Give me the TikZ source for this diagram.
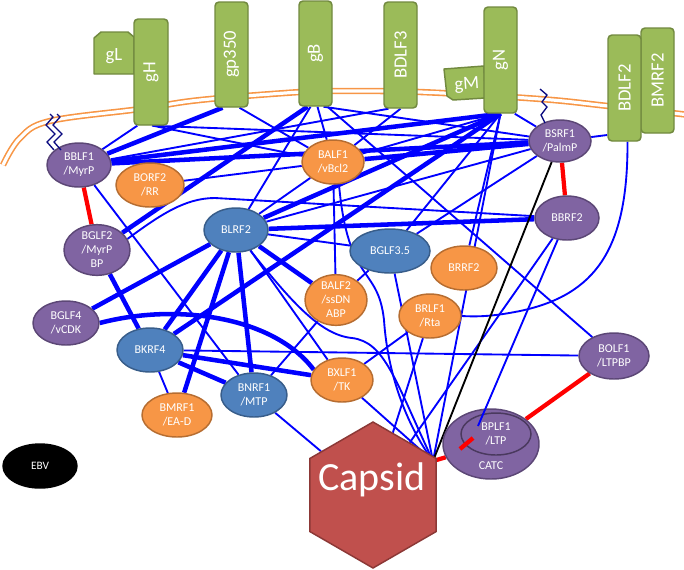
\documentclass[tikz,border=0pt]{standalone}
\usepackage{fontspec}
\setmainfont{Carlito}
\usetikzlibrary{shapes.geometric,calc}
\definecolor{cpur}{HTML}{8064A2}
\definecolor{cpurd}{HTML}{5C4776}
\definecolor{cor}{HTML}{F79646}
\definecolor{cord}{HTML}{B66D31}
\definecolor{cbl}{HTML}{4F81BD}
\definecolor{cbld}{HTML}{385D8A}
\definecolor{cgr}{HTML}{9BBB59}
\definecolor{cgrd}{HTML}{71893F}
\definecolor{ccap}{HTML}{C0504D}
\definecolor{ccapd}{HTML}{8C3836}
\definecolor{cedge}{HTML}{0000FF}
\definecolor{cnavy}{HTML}{0A0A80}
\definecolor{cred}{HTML}{FF0000}
\pgfdeclarelayer{memb}
\pgfdeclarelayer{edges}
\pgfsetlayers{memb,edges,main}
\begin{document}
\begin{tikzpicture}[x=0.75pt,y=-0.75pt,
  ell/.style 2 args={ellipse, inner sep=0pt, minimum width=2*#1*0.75pt, minimum height=2*#2*0.75pt, line width=1.1pt, text=white, font=\fontsize{9}{10.5}\selectfont, align=center},
  pur/.style={fill=cpur, draw=cpurd},
  org/.style={fill=cor, draw=cord},
  blu/.style={fill=cbl, draw=cbld},
  gbox/.style 2 args={rectangle, rounded corners=3pt, fill=cgr, draw=cgrd, line width=1.1pt, minimum width=#1*0.75pt, minimum height=#2*0.75pt, inner sep=0pt, text=white, font=\fontsize{14}{16}\selectfont},
  gshape/.style={fill=cgr, draw=cgrd, line width=1.1pt, line join=round},
  gtext/.style={text=white, font=\fontsize{14}{16}\selectfont, inner sep=0pt},
  ln/.style={cedge, line width=1.4pt},
  lnb/.style={cedge, line width=3.4pt},
  redl/.style={cred, line width=3.2pt},
  blk/.style={black, line width=1.4pt},
  squig/.style={cnavy, line width=1pt, line join=miter},
]
\useasboundingbox (0,0) rectangle (684,569);

% membrane
\begin{pgfonlayer}{memb}
\draw[cor, line width=1.2pt, double=white, double distance=2.4pt]
  plot[smooth, tension=0.6] coordinates {(3,165) (20,138) (50,121) (140,109) (200,100) (300,92) (340,91) (420,92) (540,99) (608,106) (690,115)};
\end{pgfonlayer}

% glycoproteins
\draw[gshape] (94,38) -- (101,32) -- (128,32) -- (134,37) -- (134,74) -- (94,74) -- cycle;
\node[gtext] (gLt) at (114,56) {gL};
\node[gbox={34}{106}] (gH) at (151,72) {\rotatebox{90}{gH}};
\node[gbox={33}{105}] (gp350) at (231.5,54.5) {\rotatebox{90}{gp350}};
\node[gbox={33}{105}] (gB) at (315.5,53.5) {\rotatebox{90}{gB}};
\node[gbox={33}{106}] (BDLF3) at (400.5,55) {\rotatebox{90}{BDLF3}};
\draw[gshape] (444,69) -- (484,66) -- (485,98) -- (453,100) -- (447,96) -- cycle;
\node[gtext, rotate=4] (gMt) at (467,85) {gM};
\node[gbox={33}{106}] (gN) at (500.5,60) {\rotatebox{90}{gN}};
\node[gbox={33}{105}] (BMRF2) at (657.5,80.5) {\rotatebox{90}{BMRF2}};
\node[gbox={33}{106}] (BDLF2) at (624.5,88) {\rotatebox{90}{BDLF2}};

% protein nodes
\node[ell={32}{22}, pur] (BBLF1) at (79,165) {BBLF1\\/MyrP};
\node[ell={34}{22}, org] (BORF2) at (150,185) {BORF2\\/RR};
\node[ell={33}{23}, pur] (BGLF2) at (97,250) {BGLF2\\/MyrP\\BP};
\node[ell={31}{22}, org] (BALF1) at (333,162) {BALF1\\/vBcl2};
\node[ell={31}{21}, pur] (BSRF1) at (560,141) {BSRF1\\/PalmP};
\node[ell={32}{22}, pur] (BBRF2) at (567,218) {BBRF2};
\node[ell={32}{22}, blu] (BLRF2) at (236,230) {BLRF2};
\node[ell={40}{22}, blu] (BGLF35) at (390,251) {BGLF3.5};
\node[ell={33}{22}, org] (BRRF2) at (464,268) {BRRF2};
\node[ell={31}{22}, org] (BALF2) at (336,300) {BALF2\\/ssDN\\ABP};
\node[ell={31}{22}, org] (BRLF1) at (430,316) {BRLF1\\/Rta};
\node[ell={33}{22}, pur] (BGLF4) at (66,323) {BGLF4\\/vCDK};
\node[ell={33}{22}, blu] (BKRF4) at (150,350) {BKRF4};
\node[ell={31}{22}, org] (BXLF1) at (342,380) {BXLF1\\/TK};
\node[ell={35}{23}, pur] (BOLF1) at (614,356) {BOLF1\\/LTPBP};
\node[ell={33}{22}, blu] (BNRF1) at (254,395) {BNRF1\\/MTP};
\node[ell={35}{22}, org] (BMRF1) at (177,415) {BMRF1\\/EA-D};
\node[ell={37}{22}, fill=black, draw=black, font=\fontsize{8.5}{10}\selectfont] (EBV) at (40,466) {EBV};
\node[ell={48}{35}, pur] (CATC) at (491,444) {};
\node[text=white, font=\fontsize{9}{10.5}\selectfont, inner sep=0pt] (CATCt) at (491,466) {CATC};
\node[ell={35}{21}, pur, draw=cpurd!80!black] (BPLF1) at (496,434) {BPLF1\\/LTP};
\node[regular polygon, regular polygon sides=6, shape border rotate=30, minimum size=146*0.75pt, inner sep=0pt, fill=ccap, draw=ccapd, line width=1.1pt] (Capsid) at (373,495) {};
\node[text=white, font=\fontsize{30}{32}\selectfont, inner sep=0pt] (Capsidt) at (372,480) {Capsid};
\coordinate (hub) at (433,461);

% squiggles
\draw[squig] (54,150) -- (47,142) -- (55,134) -- (46,125) -- (53,117) -- (50,114);
\draw[squig] (61,150) -- (54,142) -- (62,134) -- (53,125) -- (60,117) -- (57,114);
\draw[squig] (545,123) -- (541,115) -- (547,107) -- (542,102) -- (547,95) -- (540,89);

% edges
\begin{pgfonlayer}{edges}
% gH
\draw[ln] ($(gH.south west)+(4,0)$) -- (BBLF1);
\draw[ln] ($(gH.south)+(1,0)$) -- (BSRF1);
\draw[ln] ($(gH.south)+(2,0)$) -- (BALF1);
% gp350
\draw[lnb] ($(gp350.south)+(-9,0)$) -- (BBLF1);
\draw[ln] ($(gp350.south)+(8,0)$) -- (BALF1);
% gB
\draw[lnb] ($(gB.south)+(-8,0)$) -- (BGLF2);
\draw[ln] ($(gB.south)+(-5,0)$) -- (BLRF2);
\draw[ln] ($(gB.south)+(2,0)$) -- (BALF1);
\draw[ln] ($(gB.south)+(8,0)$) -- (BSRF1);
\draw[ln] ($(gB.south)+(12,0)$) -- (BOLF1);
% BDLF3
\draw[ln] ($(BDLF3.south)+(-12,0)$) -- (BBLF1);
\draw[ln] (BDLF3.south) -- (BALF1);
% gN
\coordinate (gNb) at (gN.south);
\draw[lnb] (gNb) -- (BBLF1);
\draw[lnb] (gNb) -- (BKRF4);
\draw[lnb] (gNb) -- (BLRF2);
\draw[ln] (gNb) -- (BALF1);
\draw[ln] (gNb) -- (BGLF35);
\draw[ln] (gNb) -- (BRRF2);
\draw[ln] (gNb) -- (hub);
\draw[ln] ($(gN.south east)+(-3,0)$) -- (BSRF1);
% BDLF2
\draw[ln] ($(BDLF2.west)+(0,47)$) -- (BSRF1);
\draw[ln] ($(BDLF2.south)+(3,0)$) .. controls (628,250) and (595,295) .. (520,311) .. controls (495,316) and (480,317) .. (BRLF1.east);
% BBLF1
\draw[lnb] (BBLF1) -- (BSRF1);
\draw[ln] (BBLF1) -- (BNRF1);
% BORF2
\draw[ln] (BORF2) -- (BALF1);
% BALF1
\draw[lnb] (BALF1) -- (BSRF1);
\draw[ln] (BALF1) -- (BLRF2);
\draw[ln] (BALF1) -- (BALF2);
\draw[ln] (BALF1.-75) .. controls (348,285) and (378,265) .. (384,320) .. controls (388,380) and (410,430) .. (hub);
% BGLF2
\draw[ln] (BGLF2.20) .. controls (160,215) and (185,198) .. (215,198) -- (BBRF2);
\draw[lnb] (BGLF2) -- (BKRF4);
% BLRF2
\draw[lnb] (BLRF2) -- (BGLF4);
\draw[lnb] (BLRF2) -- (BKRF4);
\draw[lnb] (BLRF2) -- (BMRF1);
\draw[lnb] (BLRF2) -- (BNRF1);
\draw[lnb] (BLRF2) -- (BALF2);
\draw[lnb] (BLRF2) -- (BBRF2);
\draw[ln] (BLRF2) -- (BSRF1);
\draw[ln] (BLRF2) -- (BGLF35);
\draw[ln] (BLRF2) -- (BXLF1);
\draw[ln] (BLRF2.-55) .. controls (290,300) and (320,335) .. (352,338) .. controls (385,342) and (395,380) .. (hub);
% BGLF3.5
\draw[ln] (BGLF35) -- (BSRF1);
\draw[ln] (BGLF35) -- (BALF2);
\draw[ln] (BGLF35) -- (hub);
% BRLF1
\draw[ln] (BRLF1) -- (BXLF1);
\draw[ln] (BRLF1) -- (Capsid);
% BKRF4
\draw[ln] (BKRF4) -- (BOLF1);
\draw[lnb] (BKRF4) -- (BXLF1);
\draw[lnb] (BKRF4) -- (BNRF1);
\draw[ln] (BKRF4) -- (BMRF1);
% BGLF4
\draw[lnb] (BGLF4.east) .. controls (180,302) and (275,318) .. (BXLF1.160);
% others
\draw[ln] (BALF2) -- (BNRF1);
\draw[ln] (BNRF1) -- (Capsid);
\draw[ln] (BXLF1) -- (hub);
\draw[ln] (BBRF2) -- (Capsid);
% red and black
\draw[redl] (BBLF1) -- (BGLF2);
\draw[redl] (BSRF1) -- (BBRF2);
\draw[blk] (BSRF1) -- (hub);
\draw[redl] (hub) -- (CATC);
\draw[redl] (BOLF1) -- (CATC);
\end{pgfonlayer}

% lines drawn over CATC
\coordinate (bpin) at (478,426);
\draw[ln] (BBRF2) -- (bpin);
\coordinate (rd1) at (460,449);
\coordinate (rd2) at (473,438);
\draw[redl] (rd1) -- (rd2);
\end{tikzpicture}
\end{document}
